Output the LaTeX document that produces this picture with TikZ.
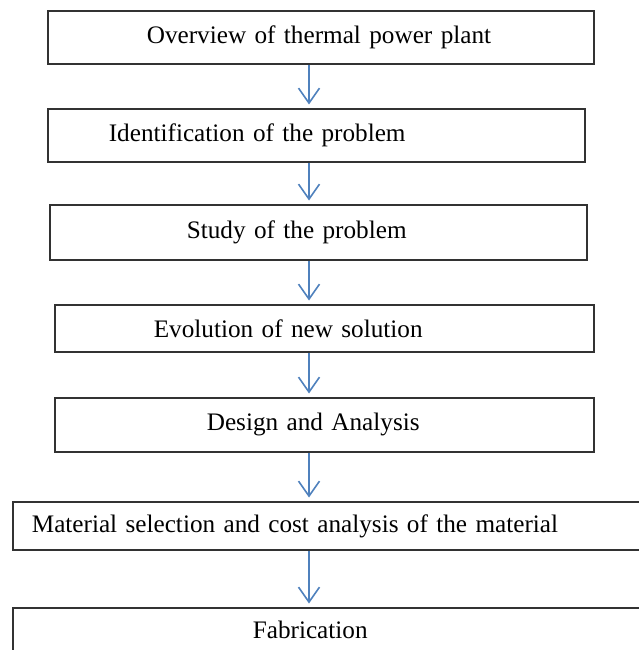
\documentclass[tikz,border=0pt]{standalone}
\usepackage{fontspec}
\setmainfont{Liberation Serif}
\definecolor{fcblue}{RGB}{79,129,189}
\definecolor{fcgray}{RGB}{50,50,50}
\usetikzlibrary{arrows.meta}

\begin{document}
\begin{tikzpicture}[x=1pt,y=-1pt,
  stepbox/.style={draw=fcgray,line width=1.7pt,anchor=north west,inner xsep=0pt,inner ysep=0pt,align=left,font=\fontsize{25.2}{29}\selectfont},
  flow/.style={draw=fcblue,line width=1.6pt,shorten >=3.5pt,-{Straight Barb[length=15pt,width=21pt]}}]
  \useasboundingbox (0,0) rectangle (639,650);
  \clip (0,0) rectangle (639,650);
  % process steps, top to bottom
  \node[stepbox,text width=546pt,minimum height=53pt] (overview) at (47,10) {\hspace*{99pt}Overview of thermal power plant};
  \node[stepbox,text width=537pt,minimum height=53pt] (identify) at (47,108) {\hspace*{61pt}Identification of the problem};
  \node[stepbox,text width=537pt,minimum height=55pt] (study) at (49,204) {\hspace*{137pt}Study of the problem};
  \node[stepbox,text width=539pt,minimum height=47pt] (evolve) at (54,304) {\hspace*{99pt}Evolution of new solution};
  \node[stepbox,text width=539pt,minimum height=54pt] (design) at (54,397) {\hspace*{152pt}Design and Analysis};
  \node[stepbox,text width=660pt,minimum height=48pt] (material) at (12,501) {\hspace*{19pt}Material selection and cost analysis of the material};
  \node[stepbox,text width=660pt,minimum height=44pt] (fabric) at (12,607) {\hspace*{240pt}Fabrication};
  % arrows
  \coordinate (axis) at (309,0);
  \draw[flow] (axis |- overview.south) -- (axis |- identify.north);
  \draw[flow] (axis |- identify.south) -- (axis |- study.north);
  \draw[flow] (axis |- study.south) -- (axis |- evolve.north);
  \draw[flow] (axis |- evolve.south) -- (axis |- design.north);
  \draw[flow] (axis |- design.south) -- (axis |- material.north);
  \draw[flow] (axis |- material.south) -- (axis |- fabric.north);
\end{tikzpicture}
\end{document}
